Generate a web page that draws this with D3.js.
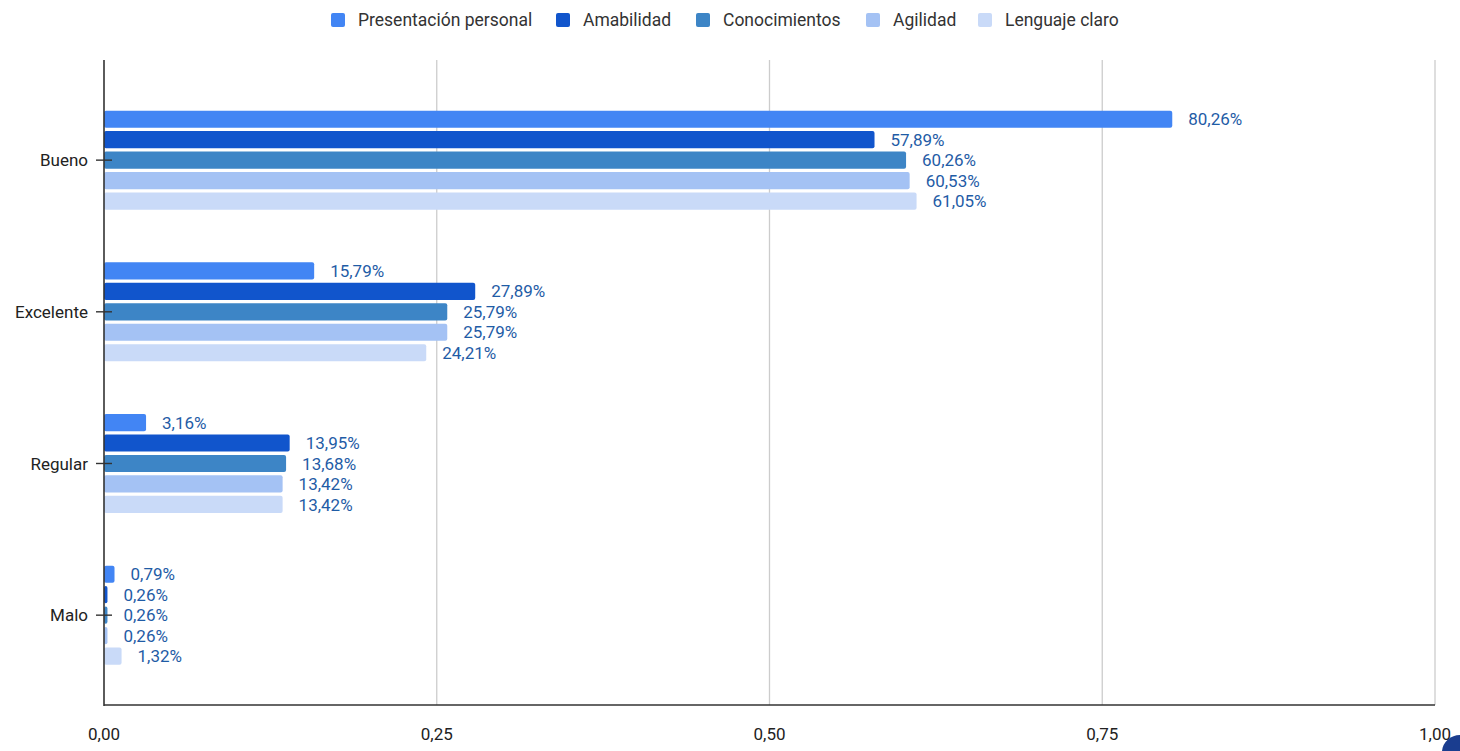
<!DOCTYPE html>
<html><head><meta charset="utf-8">
<script src="https://cdn.jsdelivr.net/npm/d3@7"></script>
<style>body{margin:0;background:#fff;}svg{display:block;font-family:Roboto,Arial,sans-serif;}</style>
</head><body><svg id="c" width="1460" height="751"></svg>
<script>
const categories = ["Bueno","Excelente","Regular","Malo"];
const seriesNames = ["Presentación personal","Amabilidad","Conocimientos","Agilidad","Lenguaje claro"];
const presentacion = [0.8026,0.1579,0.0316,0.0079];
const amabilidad = [0.5789,0.2789,0.1395,0.0026];
const conocimientos = [0.6026,0.2579,0.1368,0.0026];
const agilidad = [0.6053,0.2579,0.1342,0.0026];
const lenguaje = [0.6105,0.2421,0.1342,0.0132];
const xTicks = [0,0.25,0.5,0.75,1];
const colors = ["#4285f4","#1155cc","#3d85c6","#a4c2f4","#c9daf8"];
const seriesValues = [presentacion,amabilidad,conocimientos,agilidad,lenguaje];

(function(){
const svg = d3.select("#c");
const fmtTick = d => d3.format(".2f")(d).replace(".",",");
const fmtPct = d => (d*100).toFixed(2).replace(".",",")+"%";

const x = d3.scaleLinear().domain([0,1]).range([104,1435]);
const y = d3.scaleBand().domain(categories).range([84.3,691]).padding(0);
const inner = d3.scaleBand().domain(seriesNames).range([-49.5,49.5]).paddingInner(0.16);
const plotTop = 60, plotBottom = 705;

svg.append("g").selectAll("line").data(xTicks.slice(1)).join("line")
  .attr("x1",d=>x(d)).attr("x2",d=>x(d)).attr("y1",plotTop).attr("y2",plotBottom)
  .attr("stroke","#cccccc").attr("stroke-width",1.3);

const data = [];
categories.forEach((c,ci)=>seriesNames.forEach((s,si)=>data.push({c,s,si,v:seriesValues[si][ci]})));
const cy = c => y(c)+y.bandwidth()/2;
svg.append("g").selectAll("rect").data(data).join("rect")
  .attr("x",x(0)).attr("y",d=>cy(d.c)+inner(d.s))
  .attr("width",d=>Math.max(x(d.v)-x(0),1.5)).attr("height",inner.bandwidth())
  .attr("rx",2).attr("fill",d=>colors[d.si]);

svg.append("g").selectAll("text").data(data).join("text")
  .attr("x",d=>x(d.v)+16).attr("y",d=>cy(d.c)+inner(d.s)+inner.bandwidth()/2)
  .attr("dy","0.36em").attr("font-size",17).attr("fill","#1f5ca6")
  .text(d=>fmtPct(d.v));

svg.append("line").attr("x1",x(0)).attr("x2",x(0)).attr("y1",plotTop).attr("y2",plotBottom+1)
  .attr("stroke","#333").attr("stroke-width",1.6);
svg.append("line").attr("x1",x(0)).attr("x2",1435).attr("y1",plotBottom).attr("y2",plotBottom)
  .attr("stroke","#333").attr("stroke-width",1.6);

const cg = svg.append("g").selectAll("g").data(categories).join("g");
cg.append("line").attr("x1",96).attr("x2",112).attr("y1",d=>cy(d)).attr("y2",d=>cy(d))
  .attr("stroke","#333").attr("stroke-width",1.4);
cg.append("text").attr("x",88).attr("y",d=>cy(d)).attr("dy","0.36em").attr("text-anchor","end")
  .attr("font-size",17).attr("fill","#222").text(d=>d);

svg.append("g").selectAll("text").data(xTicks).join("text")
  .attr("x",d=>x(d)).attr("y",734).attr("dy","0.36em").attr("text-anchor","middle")
  .attr("font-size",17).attr("fill","#222").text(fmtTick);

const legX = [331,556,696,866,978];
const lg = svg.append("g").selectAll("g").data(seriesNames).join("g")
  .attr("transform",(d,i)=>`translate(${legX[i]},20)`);
lg.append("rect").attr("x",0).attr("y",-7).attr("width",14).attr("height",14).attr("rx",2)
  .attr("fill",(d,i)=>colors[i]);
lg.append("text").attr("x",27).attr("y",0).attr("dy","0.36em").attr("font-size",17.5)
  .attr("fill","#333").text(d=>d);

svg.append("path").attr("d","M1460,735 A18,18 0 0 0 1442,751 L1460,751 Z").attr("fill","#1a3d8f");
})();
</script></body></html>
